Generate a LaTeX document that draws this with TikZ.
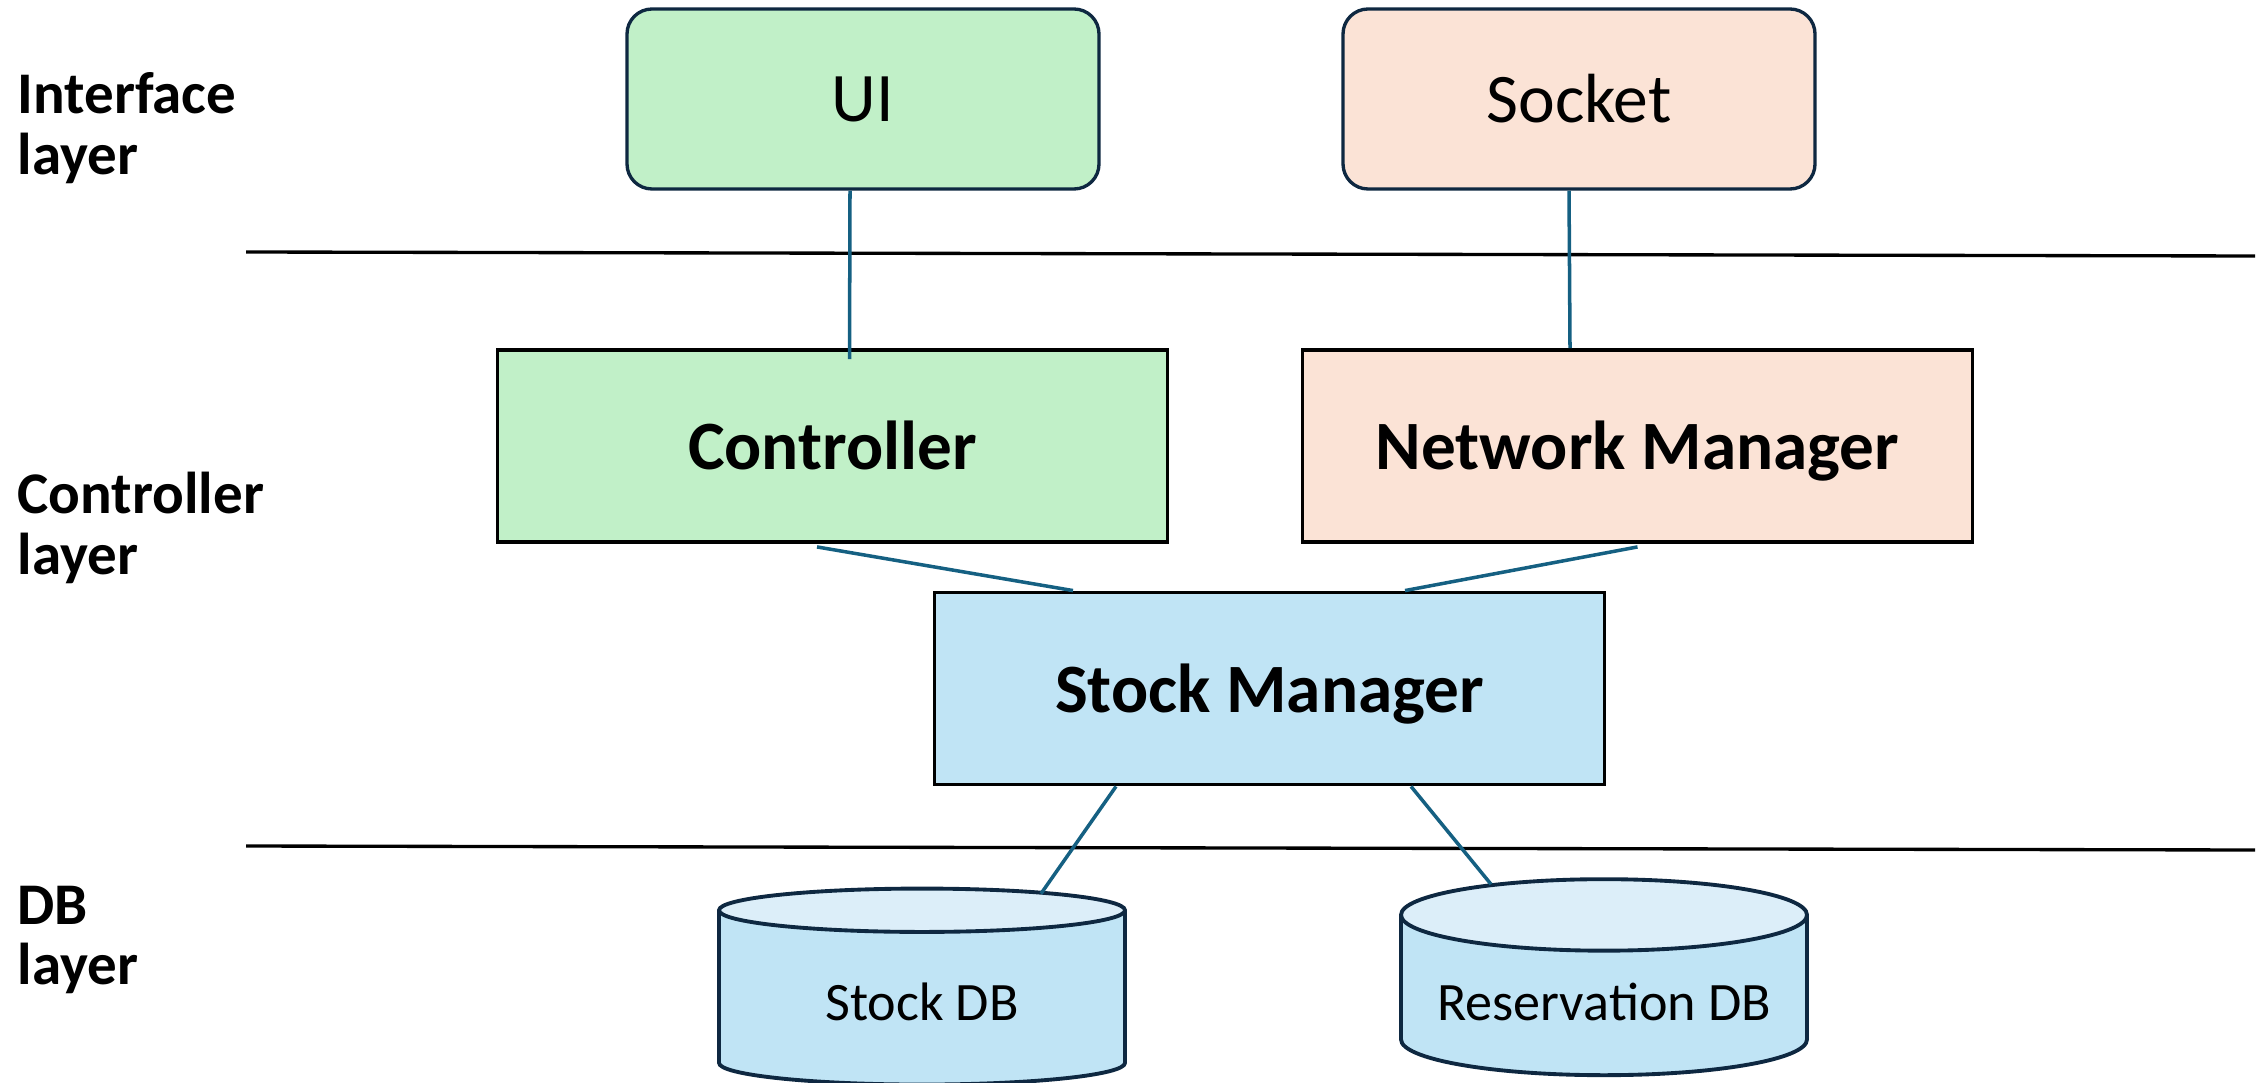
\documentclass[tikz,border=0pt]{standalone}
\usepackage{fontspec}
\setmainfont{Carlito}
\usepackage{tikz}
\usetikzlibrary{shapes.geometric}
\definecolor{uigreen}{HTML}{C1F0C8}
\definecolor{netpeach}{HTML}{FBE3D6}
\definecolor{stockblue}{HTML}{C0E4F5}
\definecolor{dbtop}{HTML}{DCEEF9}
\definecolor{linkblue}{HTML}{156082}
\definecolor{edgenavy}{HTML}{0E2841}
\tikzstyle{rbox} = [rectangle, rounded corners=0.25cm, minimum width=4.72cm, minimum height=1.8cm, text centered, draw=edgenavy, line width=0.95pt, font=\fontsize{19.8}{22}\selectfont]
\tikzstyle{box} = [rectangle, minimum width=6.7cm, minimum height=1.92cm, text centered, text height=13.6pt, text depth=0pt, draw=black, line width=1.1pt, font=\bfseries\fontsize{19.7}{22}\selectfont]
\tikzstyle{db} = [cylinder, shape border rotate=90, aspect=0.2, minimum width=4.06cm, minimum height=1.96cm, draw=edgenavy, line width=1.1pt, cylinder uses custom fill, cylinder body fill=stockblue, cylinder end fill=dbtop, font=\fontsize{15.4}{17}\selectfont]
\tikzstyle{layertext} = [anchor=west, align=left, inner sep=0pt, font=\bfseries\fontsize{16.8}{17.3}\selectfont]
\tikzstyle{link} = [draw=linkblue, line width=1pt]
\tikzstyle{sep} = [draw=black, line width=0.95pt]

\begin{document}
\begin{tikzpicture}
\useasboundingbox (0,0) rectangle (22.67,-10.83);

% layer names
\node(iflayer)[layertext] at (0.17,-1.28) {Interface\\layer};
\node(ctllayer)[layertext] at (0.17,-5.28) {Controller\\layer};
\node(dblayer)[layertext] at (0.17,-9.40) {DB\\layer};

% layer borders
\coordinate(sepAl) at (2.46,-2.52);
\coordinate(sepAr) at (22.55,-2.56);
\coordinate(sepBl) at (2.46,-8.46);
\coordinate(sepBr) at (22.55,-8.50);
\draw [sep] (sepAl) -- (sepAr);
\draw [sep] (sepBl) -- (sepBr);

\node(ui)[rbox,fill=uigreen] at (8.63,-0.99) {UI};
\node(socket)[rbox,fill=netpeach] at (15.79,-0.99) {Socket};
\node(controller)[box,fill=uigreen] at (8.325,-4.46) {Controller};
\node(netmgr)[box,fill=netpeach] at (16.375,-4.46) {Network Manager};
\node(stockmgr)[box,fill=stockblue] at (12.695,-6.885) {Stock Manager};
\node(stockdb)[db] at (9.22,-10.02) {Stock DB};
\node(resdb)[db] at (16.04,-10.02) {Reservation DB};

\draw [link] ([xshift=-1.3mm]ui.south) -- ([xshift=1.7mm,yshift=-1.1mm]controller.north);
\draw [link] ([xshift=-1mm]socket.south) -- ([xshift=-6.75mm]netmgr.north);
\draw [link] ([xshift=-1.55mm,yshift=-0.3mm]controller.south) -- ([xshift=-19.65mm]stockmgr.north);
\draw [link] ([yshift=-0.3mm]netmgr.south) -- ([xshift=13.55mm]stockmgr.north);
\draw [link] ([xshift=-15.35mm]stockmgr.south) -- ([xshift=11.9mm,yshift=-0.7mm]stockdb.north);
\draw [link] ([xshift=14.15mm]stockmgr.south) -- ([xshift=-11.3mm,yshift=-0.7mm]resdb.north);
\end{tikzpicture}
\end{document}
